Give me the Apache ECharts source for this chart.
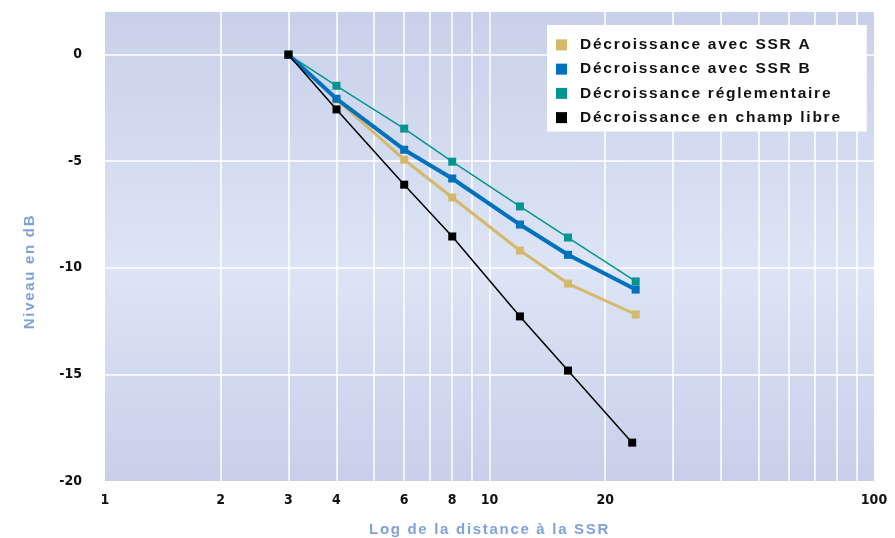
<!DOCTYPE html>
<html><head><meta charset="utf-8">
<script src="https://cdn.jsdelivr.net/npm/echarts@6/dist/echarts.min.js"></script>
<style>html,body{margin:0;padding:0;background:#fff}#chart{width:895px;height:538px}</style>
</head><body><div id="chart"></div>
<script>
// ---- data ----
const seriesNames = ['Décroissance avec SSR A', 'Décroissance avec SSR B', 'Décroissance réglementaire', 'Décroissance en champ libre'];
const distances = [3, 4, 6, 8, 12, 16, 24];
const distancesChampLibre = [3, 4, 6, 8, 12, 16, 23.5];
const ssrA = [0, -2.1, -4.93, -6.7, -9.19, -10.74, -12.19];
const ssrB = [0, -2.07, -4.46, -5.81, -7.97, -9.39, -11.02];
const reglementaire = [0, -1.46, -3.47, -5.02, -7.12, -8.58, -10.64];
const champLibre = [0, -2.57, -6.1, -8.53, -12.28, -14.82, -18.2];
const xTickLabels = [1, 2, 3, 4, 6, 8, 10, 20, 100];
const xGridValues = [2, 3, 4, 5, 6, 7, 8, 9, 10, 20, 30, 40, 50, 60, 70, 80, 90];
const yTickLabels = [-20, -15, -10, -5, 0];
const xName = 'Log de la distance à la SSR';
const yName = 'Niveau en dB';

// letter spacing for the wide (spaced) text family
(function () {
  const P = CanvasRenderingContext2D.prototype;
  if (!('letterSpacing' in P)) return;
  ['fillText', 'strokeText', 'measureText'].forEach(function (name) {
    const orig = P[name];
    P[name] = function () {
      const f = this.font || '';
      let ls = '0px';
      if (/Liberation Sans(?! Narrow)/.test(f)) ls = /15\.5px/.test(f) ? '1.75px' : '1.7px';
      this.letterSpacing = ls;
      return orig.apply(this, arguments);
    };
  });
})();

const pair = (xs, ys) => xs.map((x, i) => [x, ys[i]]);
const SPACED = "'Liberation Sans', Arial, sans-serif";
const NARROW = "'Liberation Sans Narrow', 'DejaVu Sans Condensed', sans-serif";
const colors = ['#d4b96a', '#0071bc', '#00958f', '#000000'];

const chart = echarts.init(document.getElementById('chart'), null, { renderer: 'canvas' });
chart.setOption({
  animation: false,
  grid: {
    left: 105, right: 21, top: 12, bottom: 57,
    containLabel: false, outerBoundsMode: 'none',
    show: true, borderWidth: 0,
    backgroundColor: {
      type: 'linear', x: 0, y: 0, x2: 0, y2: 1,
      colorStops: [
        { offset: 0, color: '#c9d1ea' },
        { offset: 0.55, color: '#dce4f5' },
        { offset: 1, color: '#c8cfea' }
      ]
    }
  },
  legend: {
    orient: 'vertical', left: 547, top: 25,
    backgroundColor: '#ffffff',
    padding: [11, 25, 5, 9],
    itemWidth: 11, itemHeight: 11, itemGap: 6.5,
    icon: 'rect',
    data: seriesNames,
    textStyle: { fontFamily: SPACED, fontWeight: 'bold', fontSize: 15.5, color: '#111', padding: [0, 0, 0, 8] }
  },
  xAxis: {
    type: 'log', logBase: 10, min: 1, max: 100,
    name: xName, nameLocation: 'middle', nameGap: 41,
    nameTextStyle: { fontFamily: SPACED, fontWeight: 'bold', fontSize: 15, color: '#7fa2d8' },
    axisLine: { show: false },
    axisTick: { show: false, customValues: xGridValues },
    axisLabel: { customValues: xTickLabels, margin: 12, fontFamily: NARROW, fontWeight: 'bold', fontSize: 14, color: '#111' },
    splitLine: { show: true, lineStyle: { color: '#ffffff', width: 1.5 } },
    minorSplitLine: { show: false }
  },
  yAxis: {
    type: 'value', min: -20, max: 2, interval: 5,
    name: yName, nameLocation: 'middle', nameRotate: 90, nameGap: 67,
    nameTextStyle: { fontFamily: SPACED, fontWeight: 'bold', fontSize: 15, color: '#7fa2d8', padding: [0, 50, 0, 0] },
    axisLine: { show: false },
    axisTick: { show: false, customValues: [-15, -10, -5, 0] },
    axisLabel: { customValues: yTickLabels, margin: 23, fontFamily: NARROW, fontWeight: 'bold', fontSize: 14, color: '#111' },
    splitLine: { show: true, lineStyle: { color: '#ffffff', width: 1.5 } }
  },
  series: [
    { name: seriesNames[0], type: 'line', z: 3, data: pair(distances, ssrA), color: colors[0],
      lineStyle: { width: 3 }, symbol: 'rect', symbolSize: 8, itemStyle: { color: colors[0] } },
    { name: seriesNames[1], type: 'line', z: 4, data: pair(distances, ssrB), color: colors[1],
      lineStyle: { width: 4 }, symbol: 'rect', symbolSize: 8, itemStyle: { color: colors[1] } },
    { name: seriesNames[2], type: 'line', z: 2, data: pair(distances, reglementaire), color: colors[2],
      lineStyle: { width: 1.5 }, symbol: 'rect', symbolSize: 8, itemStyle: { color: colors[2] } },
    { name: seriesNames[3], type: 'line', z: 5, data: pair(distancesChampLibre, champLibre), color: colors[3],
      lineStyle: { width: 1.5 }, symbol: 'rect', symbolSize: 8, itemStyle: { color: colors[3] } }
  ]
});
</script></body></html>
